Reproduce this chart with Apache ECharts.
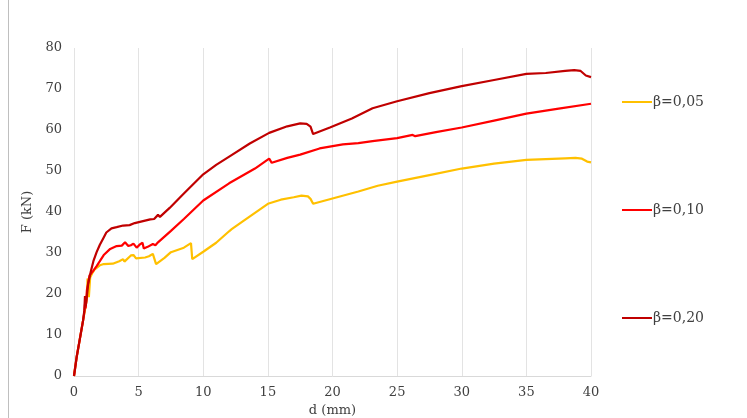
<!DOCTYPE html>
<html>
<head>
<meta charset="utf-8">
<script src="https://cdn.jsdelivr.net/npm/echarts@6/dist/echarts.min.js"></script>
<style>
html,body{margin:0;padding:0;background:#fff;}
#chart{width:747px;height:418px;}
</style>
</head>
<body>
<div id="chart"></div>
<script>
var seriesNames = ['β=0,05', 'β=0,10', 'β=0,20'];
var xTicks = [0, 5, 10, 15, 20, 25, 30, 35, 40];
var yTicks = [0, 10, 20, 30, 40, 50, 60, 70, 80];

var d05 = [0, 0.2, 0.45, 0.7, 0.9, 1.0, 1.05, 1.15, 1.25, 1.4, 1.6, 2.0, 2.3, 3.0, 3.5, 3.8, 3.9, 4.4, 4.6, 4.8, 5.5, 5.8, 6.1, 6.2, 6.35, 7.0, 7.5, 8.5, 9.05, 9.15, 10.0, 11.0, 12.0, 12.2, 13.0, 14.0, 15.0, 16.0, 17.0, 17.6, 18.1, 18.3, 18.5, 20.0, 22.0, 23.5, 25.0, 27.5, 30.0, 32.5, 35.0, 36.5, 38.0, 38.8, 39.3, 39.7, 40];
var f05 = [0, 4.5, 9, 13.5, 17, 19, 23.8, 19.2, 24, 25, 26, 27, 27.3, 27.4, 28, 28.5, 27.9, 29.4, 29.5, 28.7, 28.9, 29.2, 29.8, 29.6, 27.3, 28.8, 30.2, 31.3, 32.4, 28.5, 30.3, 32.5, 35.3, 35.8, 37.6, 39.8, 42.0, 43.0, 43.6, 44.0, 43.8, 43.2, 42.0, 43.3, 45.0, 46.4, 47.4, 49.0, 50.6, 51.8, 52.7, 52.9, 53.1, 53.2, 53.0, 52.3, 52.1];

var d10 = [0, 0.2, 0.45, 0.7, 0.8, 0.85, 0.9, 1.0, 1.2, 1.5, 1.75, 2.0, 2.3, 2.8, 3.3, 3.7, 3.95, 4.2, 4.4, 4.6, 4.85, 5.1, 5.3, 5.4, 5.7, 6.1, 6.3, 6.5, 7.0, 7.5, 8.5, 10, 12, 14, 15.1, 15.3, 16.5, 17.5, 19.0, 19.1, 20.8, 20.9, 22, 23.1, 25, 26.2, 26.4, 28, 30, 32.5, 35, 37.5, 40];
var f10 = [0, 4.5, 9, 13.5, 15.5, 17.5, 16.5, 21, 24.5, 25.7, 26.8, 28, 29.5, 31, 31.7, 31.8, 32.6, 31.7, 31.9, 32.3, 31.3, 32.1, 32.5, 31.1, 31.5, 32.2, 31.9, 32.6, 34.0, 35.4, 38.3, 42.8, 47, 50.6, 53.0, 52.0, 53.2, 54.0, 55.5, 55.1, 56.5, 56.1, 56.8, 57.3, 58.0, 58.8, 58.5, 59.5, 60.6, 62.3, 64, 65.2, 66.4];

var d20 = [0, 0.2, 0.45, 0.7, 0.8, 0.85, 0.9, 0.95, 1.1, 1.3, 1.5, 1.75, 2.0, 2.3, 2.5, 2.9, 3.3, 3.8, 4.3, 4.7, 5.1, 5.5, 5.9, 6.2, 6.5, 6.65, 7.4, 8.5, 10, 11, 12.1, 13.6, 15.1, 16.5, 17.5, 18.0, 18.3, 18.5, 19.8, 21.5, 23.1, 25, 27.5, 30, 32.5, 35, 36.5, 38.0, 38.7, 39.2, 39.6, 40];
var f20 = [0, 4.5, 9, 13.5, 16, 19.5, 17, 18, 22.5, 25.5, 28, 30.2, 32, 33.8, 35, 36, 36.3, 36.7, 36.8, 37.3, 37.6, 37.9, 38.2, 38.3, 39.3, 38.8, 41, 44.5, 49.2, 51.5, 53.7, 56.7, 59.3, 60.9, 61.6, 61.5, 60.8, 59.0, 60.6, 62.8, 65.3, 67, 69.0, 70.7, 72.2, 73.7, 73.9, 74.4, 74.6, 74.4, 73.3, 72.9];

function zip(a, b) { return a.map(function (v, i) { return [v, b[i]]; }); }

var colors = ['#FFC000', '#FF0000', '#C00000'];
var font = '"DejaVu Serif", "Liberation Serif", serif';
var chart = echarts.init(document.getElementById('chart'), null, { renderer: 'canvas' });

function mkSeries(name, d, f, color) {
  return {
    name: name, type: 'line', data: zip(d, f), showSymbol: false, symbol: 'none',
    smooth: false, lineStyle: { color: color, width: 2.2 }, itemStyle: { color: color },
    animation: false
  };
}

chart.setOption({
  animation: false,
  backgroundColor: '#ffffff',
  grid: { left: 74, right: 156, top: 48, bottom: 42, containLabel: false, outerBoundsMode: 'none' },
  xAxis: {
    type: 'value', min: xTicks[0], max: xTicks[xTicks.length - 1], interval: 5,
    name: 'd (mm)', nameLocation: 'middle', nameGap: 28,
    nameTextStyle: { color: '#404040', fontFamily: font, fontSize: 13 },
    axisLine: { show: true, lineStyle: { color: '#d9d9d9', width: 1 } },
    axisTick: { show: false },
    axisLabel: { color: '#404040', fontFamily: font, fontSize: 13, margin: 10 },
    splitLine: { show: true, lineStyle: { color: '#e3e3e3', width: 1 } }
  },
  yAxis: {
    type: 'value', min: yTicks[0], max: yTicks[yTicks.length - 1], interval: 10,
    name: 'F (kN)', nameLocation: 'middle', nameGap: 38, nameRotate: 90,
    nameTextStyle: { color: '#404040', fontFamily: font, fontSize: 13 },
    axisLine: { show: false },
    axisTick: { show: false },
    axisLabel: { color: '#404040', fontFamily: font, fontSize: 13, margin: 12 },
    splitLine: { show: false }
  },
  legend: {
    orient: 'vertical', left: 617, top: 90, itemGap: 94,
    itemWidth: 30, itemHeight: 14,
    textStyle: { color: '#404040', fontFamily: font, fontSize: 14, padding: [0, 0, 0, -4] },
    data: seriesNames.map(function (n) { return { name: n, icon: 'path://M0,6 L30,6 L30,8 L0,8 Z' }; })
  },
  graphic: [{
    type: 'line', shape: { x1: 8.5, y1: 0, x2: 8.5, y2: 418 },
    style: { stroke: '#bfbfbf', lineWidth: 1 }
  }],
  series: [
    mkSeries(seriesNames[0], d05, f05, colors[0]),
    mkSeries(seriesNames[1], d10, f10, colors[1]),
    mkSeries(seriesNames[2], d20, f20, colors[2])
  ]
});
</script>
</body>
</html>
